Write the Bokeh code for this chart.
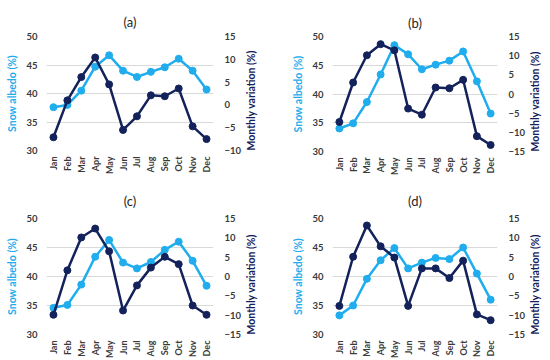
import math
from bokeh.plotting import figure
from bokeh.models import Range1d, LinearAxis, FixedTicker, FactorRange
from bokeh.layouts import gridplot
from bokeh.embed import file_html
from bokeh.resources import INLINE

months = ["Jan", "Feb", "Mar", "Apr", "May", "Jun", "Jul", "Aug", "Sep", "Oct", "Nov", "Dec"]

albedo_a = [37.6, 38.0, 40.5, 44.7, 46.7, 44.0, 42.9, 43.8, 44.6, 46.1, 44.0, 40.7]
var_a = [-7.1, 1.0, 6.1, 10.4, 4.5, -5.5, -2.5, 2.1, 1.9, 3.6, -4.7, -7.5]
albedo_b = [34.0, 34.9, 38.6, 43.4, 48.5, 46.9, 44.3, 45.1, 45.8, 47.4, 42.2, 36.6]
var_b = [-7.3, 3.0, 10.1, 13.0, 11.4, -3.8, -5.4, 1.7, 1.5, 3.7, -11.0, -13.3]
albedo_c = [34.6, 35.1, 38.6, 43.4, 46.3, 42.4, 41.4, 42.5, 44.6, 46.0, 42.7, 38.4]
var_c = [-9.9, 1.6, 10.1, 12.4, 6.5, -8.8, -2.3, 2.3, 5.1, 3.2, -7.5, -9.9]
albedo_d = [33.3, 35.0, 39.6, 42.8, 44.9, 41.4, 42.4, 43.2, 43.0, 45.0, 40.5, 36.0]
var_d = [-7.6, 5.1, 13.2, 7.8, 4.9, -7.6, 2.1, 2.1, -0.4, 4.1, -9.8, -11.3]

panel_titles = ["(a)", "(b)", "(c)", "(d)"]
albedo_ticks = [30, 35, 40, 45, 50]
var_ticks_a = [-10, -5, 0, 5, 10, 15]
var_ticks = [-15, -10, -5, 0, 5, 10, 15]
left_title = "Snow albedo (%)"
right_title = "Monthly variation (%)"

LIGHT = "#1FADEE"
DARK = "#14225B"
TICK = "#3A3A3A"
FONT = "Lato"


def style_axis(ax):
    ax.axis_line_color = None
    ax.major_tick_line_color = None
    ax.minor_tick_line_color = None
    ax.major_tick_in = 0
    ax.major_tick_out = 0
    ax.minor_tick_in = 0
    ax.minor_tick_out = 0
    ax.major_label_text_font = FONT
    ax.major_label_text_font_style = "bold"
    ax.major_label_text_color = TICK
    ax.major_label_text_font_size = "9.5px"
    ax.axis_label_text_font = FONT
    ax.axis_label_text_font_style = "bold"
    ax.axis_label_text_font_size = "10.5px"


def make_panel(title, albedo, var, vticks, fw, fh, borders, title_standoff):
    left, right, top, bottom = borders
    p = figure(frame_width=fw, frame_height=fh, output_backend="svg", toolbar_location=None,
               x_range=FactorRange(factors=months, range_padding=0),
               y_range=Range1d(albedo_ticks[0], albedo_ticks[-1]),
               min_border_left=left, min_border_right=right,
               min_border_top=top, min_border_bottom=bottom,
               title=title)
    p.outline_line_color = None
    p.title.align = "center"
    p.title.text_font = FONT
    p.title.text_font_style = "normal"
    p.title.text_font_size = "13px"
    p.title.text_color = "#262626"
    p.title.standoff = title_standoff
    p.xgrid.visible = False
    p.ygrid.grid_line_color = "#D9D9D9"
    p.ygrid.grid_line_width = 1
    p.extra_y_ranges = {"var": Range1d(vticks[0], vticks[-1])}

    p.yaxis.ticker = FixedTicker(ticks=albedo_ticks)
    p.yaxis.axis_label = left_title
    style_axis(p.yaxis[0])
    p.yaxis.axis_label_text_color = LIGHT
    p.yaxis.major_label_standoff = 9
    p.yaxis.axis_label_standoff = 5

    style_axis(p.xaxis[0])
    p.xaxis[0].major_label_orientation = 1.5707
    p.xaxis[0].major_label_standoff = 6
    p.xaxis[0].major_label_text_font_size = "9px"

    rax = LinearAxis(y_range_name="var", ticker=FixedTicker(ticks=vticks),
                     axis_label=right_title)
    style_axis(rax)
    rax.major_label_standoff = 11
    rax.axis_label_text_color = DARK
    rax.axis_label_standoff = 7
    rax.axis_label_orientation = 1.5707
    try:
        rax.axis_label_align = "start"
    except Exception:
        pass
    p.add_layout(rax, "right")

    p.line(x=months, y=albedo, line_color=LIGHT, line_width=2.5)
    p.scatter(x=months, y=albedo, size=7, fill_color=LIGHT, line_color=LIGHT)
    p.line(x=months, y=var, line_color=DARK, line_width=2.5, y_range_name="var")
    p.scatter(x=months, y=var, size=7, fill_color=DARK, line_color=DARK, y_range_name="var")
    return p


pa = make_panel(panel_titles[0], albedo_a, var_a, var_ticks_a, 167, 114, (46, 62, 36, 30), 13)
pb = make_panel(panel_titles[1], albedo_b, var_b, var_ticks, 165, 115, (57, 53, 35, 30), 12)
pc = make_panel(panel_titles[2], albedo_c, var_c, var_ticks, 167, 116, (46, 62, 38, 24), 19)
pd = make_panel(panel_titles[3], albedo_d, var_d, var_ticks, 165, 116, (57, 53, 38, 24), 19)

layout = gridplot([[pa, pb], [pc, pd]], toolbar_location=None)
open("out.html", "w").write(file_html(layout, INLINE))
